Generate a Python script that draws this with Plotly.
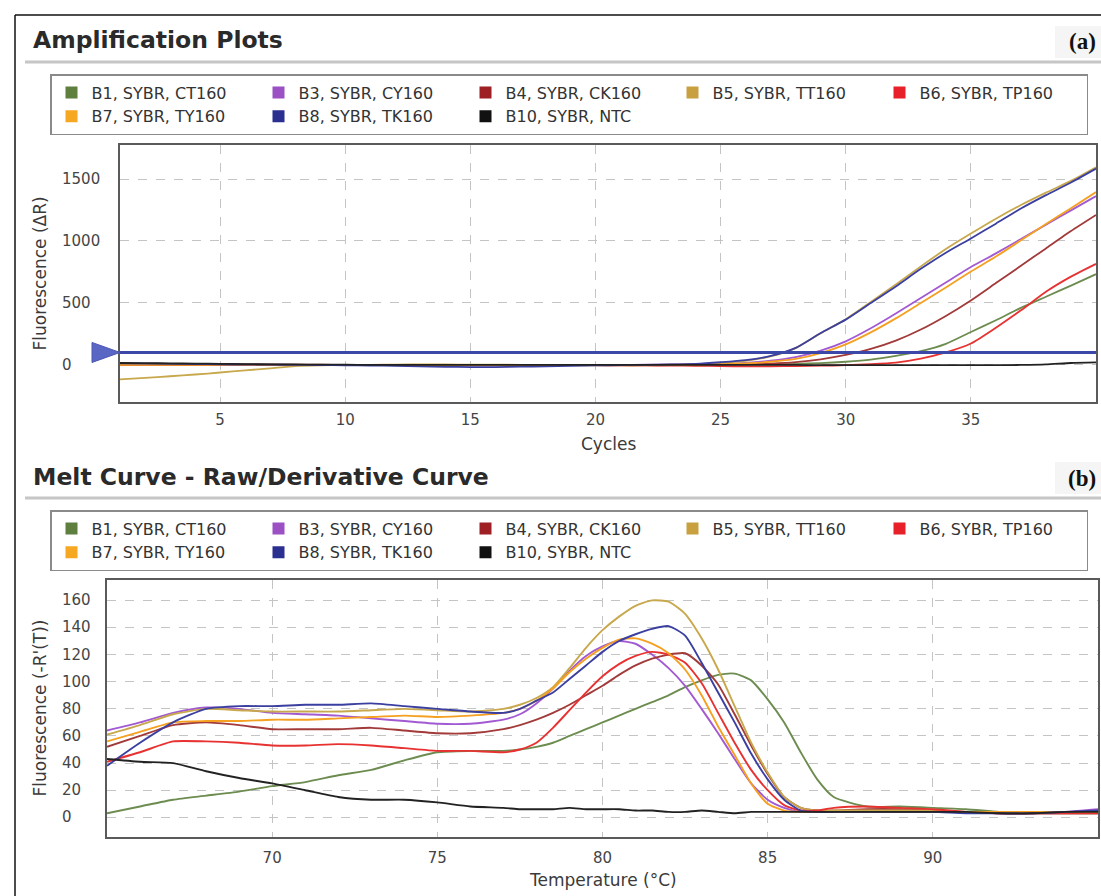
import plotly.graph_objects as go

W, H = 1101, 896

# ---------------- data ----------------
series_names = ["B1, SYBR, CT160", "B3, SYBR, CY160", "B4, SYBR, CK160", "B5, SYBR, TT160",
                "B6, SYBR, TP160", "B7, SYBR, TY160", "B8, SYBR, TK160", "B10, SYBR, NTC"]
series_colors = ["#5f7f3f", "#9b50c4", "#9e1f24", "#c9a040", "#e8202a", "#f7a823", "#2b2f8f", "#111111"]
line_colors = ["#6d8c50", "#a25ad2", "#a33a3a", "#c8a84c", "#e83232", "#f5a020", "#3a3fa0", "#222222"]

cycles = list(range(1, 41))
amp_B1 = [-3, -3, -2, -2, -2, -1, -1, -1, 0, 0, 0, 0, -1, -1, -2, -2, -2, -1, -1, 0, 0, 0, 0, 1,
          2, 3, 4, 8, 14, 25, 42, 72, 110, 170, 265, 360, 460, 550, 640, 732]
amp_B3 = [2, 2, 1, 1, 1, 0, 0, 0, 0, -1, -1, -2, -3, -4, -5, -5, -4, -3, -2, -1, 0, 1, 2, 4,
          8, 16, 33, 62, 115, 190, 295, 415, 540, 665, 790, 900, 1016, 1131, 1247, 1362]
amp_B4 = [8, 8, 7, 6, 5, 4, 3, 2, 1, 0, 0, -1, -1, -2, -2, -2, -1, -1, 0, 0, 0, 0, 1, 1,
          2, 4, 10, 22, 45, 80, 128, 195, 285, 395, 520, 660, 800, 940, 1080, 1210]
amp_B5 = [-118, -105, -92, -78, -62, -45, -28, -10, -4, -2, 0, 2, 3, 3, 2, 1, 0, -2, -3, -4, -5, -5, -3, 0,
          15, 32, 68, 135, 255, 368, 508, 648, 795, 935, 1060, 1180, 1290, 1390, 1485, 1595]
amp_B6 = [0, 0, 0, -1, -1, -1, -2, -2, -2, -2, -2, -3, -3, -3, -3, -3, -3, -3, -3, -3, -4, -5, -6, -8,
          -10, -13, -12, -10, -7, -3, 5, 18, 50, 100, 172, 300, 440, 590, 712, 815]
amp_B7 = [0, 0, 0, 0, -1, -1, -1, -1, -1, -1, -2, -2, -2, -3, -3, -3, -3, -3, -3, -2, -2, -1, 0, 2,
          5, 12, 25, 48, 95, 165, 262, 375, 500, 625, 753, 874, 1005, 1137, 1265, 1395]
amp_B8 = [12, 10, 8, 6, 4, 2, 1, 0, -2, -4, -6, -8, -12, -16, -18, -18, -15, -12, -8, -5, -2, 0, 3, 8,
          21, 38, 72, 137, 257, 365, 499, 633, 775, 905, 1020, 1140, 1262, 1370, 1472, 1584]
amp_B10 = [15, 14, 12, 10, 8, 6, 4, 3, 2, 1, 0, 0, 0, -1, -1, -1, -1, 0, 0, 0, 0, 0, 0, 0,
           0, -1, -1, -1, -2, -2, -2, -2, -2, -2, -2, -2, -1, 3, 15, 20]
threshold = 100
amp_yticks = [0, 500, 1000, 1500]
amp_xticks = [5, 10, 15, 20, 25, 30, 35]

temps = [65, 66, 67, 68, 69, 70, 71, 72, 73, 74, 75, 76, 77, 77.5, 78, 78.5, 79, 79.5, 80, 80.5,
         81, 81.5, 82, 82.5, 83, 83.5, 84, 84.5, 85, 85.5, 86, 86.5, 87, 88, 89, 90, 91, 92, 93, 94, 95]
melt_B1 = [3, 8, 13, 16, 19, 23, 26, 31, 35, 42, 48, 49, 49, 50, 52, 55, 60, 65, 70, 75,
           80, 85, 90, 96, 101, 105, 106, 101, 87, 70, 48, 28, 15, 8, 8, 7, 6, 4, 3, 3, 3]
melt_B3 = [64, 70, 77, 81, 80, 77, 76, 75, 73, 71, 69, 69, 72, 76, 84, 95, 108, 119, 126, 130,
           128, 120, 110, 97, 80, 62, 43, 25, 13, 7, 4, 4, 4, 4, 4, 4, 4, 3, 3, 4, 6]
melt_B4 = [52, 60, 68, 70, 68, 65, 65, 65, 66, 64, 62, 62, 65, 68, 72, 77, 83, 90, 97, 105,
           112, 117, 120, 121, 112, 98, 76, 53, 32, 15, 7, 5, 5, 6, 6, 5, 4, 3, 3, 3, 3]
melt_B5 = [61, 68, 76, 80, 79, 78, 78, 78, 79, 80, 79, 78, 80, 83, 88, 96, 110, 125, 138, 148,
           156, 160, 159, 150, 132, 109, 82, 55, 33, 15, 7, 5, 5, 5, 5, 5, 4, 4, 4, 4, 4]
melt_B6 = [41, 48, 56, 56, 55, 53, 53, 54, 53, 51, 49, 49, 48, 50, 55, 66, 79, 92, 104, 113,
           119, 122, 120, 114, 99, 77, 55, 35, 20, 9, 5, 5, 7, 8, 7, 6, 4, 3, 3, 3, 3]
melt_B7 = [56, 63, 70, 71, 71, 72, 72, 73, 74, 75, 74, 75, 77, 80, 86, 95, 107, 117, 125, 131,
           132, 128, 121, 109, 90, 67, 46, 25, 10, 5, 4, 4, 4, 4, 4, 4, 4, 4, 4, 4, 4]
melt_B8 = [38, 55, 70, 80, 82, 82, 83, 83, 84, 82, 80, 78, 77, 80, 86, 92, 102, 112, 122, 130,
           135, 139, 141, 134, 114, 92, 70, 47, 28, 13, 5, 4, 4, 4, 4, 4, 3, 3, 3, 4, 5]
melt_B10 = [43, 41, 40, 34, 29, 25, 20, 15, 13, 13, 11, 8, 7, 6, 6, 6, 7, 6, 6, 6,
            5, 5, 4, 4, 5, 4, 3, 4, 4, 4, 4, 4, 4, 4, 4, 4, 4, 3, 3, 4, 4]
melt_yticks = [0, 20, 40, 60, 80, 100, 120, 140, 160]
melt_xticks = [70, 75, 80, 85, 90]

amp_series = [amp_B1, amp_B3, amp_B4, amp_B5, amp_B6, amp_B7, amp_B8, amp_B10]
melt_series = [melt_B1, melt_B3, melt_B4, melt_B5, melt_B6, melt_B7, melt_B8, melt_B10]

# ---------------- layout helpers (pixels -> paper) ----------------
def px(x):
    return x / W

def py(y):
    return 1 - y / H

TOP = dict(l=120, r=1096, t=145, b=402)
BOT = dict(l=107, r=1098, t=580, b=837)

FONT = "DejaVu Sans"
TICK_COLOR = "#454545"

fig = go.Figure()

# --- amplification traces ---
for name, col, vals in zip(series_names, line_colors, amp_series):
    fig.add_trace(go.Scatter(x=cycles, y=vals, mode="lines", name=name,
                             line=dict(color=col, width=1.8, shape="spline", smoothing=0.6),
                             xaxis="x", yaxis="y", showlegend=False, hoverinfo="skip"))
fig.add_trace(go.Scatter(x=[cycles[0], cycles[-1]], y=[threshold, threshold], mode="lines",
                         line=dict(color="#3c48a8", width=3), xaxis="x", yaxis="y",
                         showlegend=False, hoverinfo="skip"))
# --- melt traces ---
for name, col, vals in zip(series_names, line_colors, melt_series):
    fig.add_trace(go.Scatter(x=temps, y=vals, mode="lines", name=name,
                             line=dict(color=col, width=1.9, shape="spline", smoothing=0.6),
                             xaxis="x2", yaxis="y2", showlegend=False, hoverinfo="skip"))

# --- legend entries ---
for lg, xa, ya in (("legend", "x", "y"), ("legend2", "x2", "y2")):
    for name, col in zip(series_names, series_colors):
        fig.add_trace(go.Scatter(x=[None], y=[None], mode="markers", name=name,
                                 marker=dict(symbol="square", size=12, color=col),
                                 legend=lg, xaxis=xa, yaxis=ya, showlegend=True))

axis_common = dict(showline=True, mirror=True, linecolor="#5a5a5a", linewidth=1.5,
                   showgrid=True, gridcolor="#c4c4c4", griddash="dash", gridwidth=1,
                   zeroline=False, ticks="", fixedrange=True)

legend_common = dict(orientation="h", xanchor="left", yanchor="top",
                     bgcolor="white", bordercolor="#8a8a8a", borderwidth=1.5,
                     font=dict(family=FONT, size=16, color="#333333"),
                     entrywidth=162, entrywidthmode="pixels", itemwidth=30,
                     tracegroupgap=0)

fig.update_layout(
    width=W, height=H, margin=dict(l=0, r=0, t=0, b=0),
    paper_bgcolor="white", plot_bgcolor="white",
    xaxis=dict(domain=[px(TOP["l"]), px(TOP["r"])], range=[1, 40], anchor="y",
               tickvals=amp_xticks, ticklabelstandoff=3,
               tickfont=dict(family=FONT, size=15, color=TICK_COLOR), **axis_common),
    yaxis=dict(domain=[py(TOP["b"]), py(TOP["t"])], range=[-300, 1775], anchor="x",
               tickvals=amp_yticks, showticklabels=False, **axis_common),
    xaxis2=dict(domain=[px(BOT["l"]), px(BOT["r"])], range=[65, 95], anchor="y2",
                tickvals=melt_xticks, ticklabelstandoff=6,
                tickfont=dict(family=FONT, size=15, color=TICK_COLOR), **axis_common),
    yaxis2=dict(domain=[py(BOT["b"]), py(BOT["t"])], range=[-14.5, 175], anchor="x2",
                tickvals=melt_yticks, showticklabels=False, **axis_common),
    legend=dict(x=px(50), y=py(74), **legend_common),
    legend2=dict(x=px(50), y=py(510), **legend_common),
    showlegend=True,
)

annotations = []
# left-aligned y tick labels
for v in amp_yticks:
    annotations.append(dict(x=px(60), xref="paper", y=v, yref="y", text=str(v), showarrow=False,
                            xanchor="left", yanchor="middle",
                            font=dict(family=FONT, size=15, color=TICK_COLOR)))
for v in melt_yticks:
    annotations.append(dict(x=px(60), xref="paper", y=v, yref="y2", text=str(v), showarrow=False,
                            xanchor="left", yanchor="middle",
                            font=dict(family=FONT, size=15, color=TICK_COLOR)))
# axis titles
annotations += [
    dict(x=px((TOP["l"] + TOP["r"]) / 2), y=py(444), xref="paper", yref="paper", text="Cycles",
         showarrow=False, xanchor="center", yanchor="middle",
         font=dict(family=FONT, size=17, color="#3a3a3a")),
    dict(x=px((BOT["l"] + BOT["r"]) / 2), y=py(880), xref="paper", yref="paper",
         text="Temperature (°C)", showarrow=False, xanchor="center", yanchor="middle",
         font=dict(family=FONT, size=17, color="#3a3a3a")),
    dict(x=px(39), y=py((TOP["t"] + TOP["b"]) / 2), xref="paper", yref="paper",
         text="Fluorescence (ΔR)", textangle=-90, showarrow=False, xanchor="center", yanchor="middle",
         font=dict(family=FONT, size=17, color="#3a3a3a")),
    dict(x=px(39), y=py((BOT["t"] + BOT["b"]) / 2), xref="paper", yref="paper",
         text="Fluorescence (-R'(T))", textangle=-90, showarrow=False, xanchor="center", yanchor="middle",
         font=dict(family=FONT, size=17, color="#3a3a3a")),
    # section titles
    dict(x=px(31), y=py(40), xref="paper", yref="paper", text="<b>Amplification Plots</b>",
         showarrow=False, xanchor="left", yanchor="middle",
         font=dict(family=FONT, size=23.5, color="#2a2a2a")),
    dict(x=px(31), y=py(477), xref="paper", yref="paper", text="<b>Melt Curve - Raw/Derivative Curve</b>",
         showarrow=False, xanchor="left", yanchor="middle",
         font=dict(family=FONT, size=23.5, color="#2a2a2a")),
    dict(x=px(1098), y=py(41), xref="paper", yref="paper", text="<b>(a)</b>",
         showarrow=False, xanchor="right", yanchor="middle",
         font=dict(family="Liberation Serif", size=23, color="#111111")),
    dict(x=px(1098), y=py(478), xref="paper", yref="paper", text="<b>(b)</b>",
         showarrow=False, xanchor="right", yanchor="middle",
         font=dict(family="Liberation Serif", size=23, color="#111111")),
]
fig.update_layout(annotations=annotations)

shapes = [
    # outer border (left and top)
    dict(type="line", xref="paper", yref="paper", x0=px(15), x1=px(15), y0=0, y1=py(15),
         line=dict(color="#111111", width=1.5)),
    dict(type="line", xref="paper", yref="paper", x0=px(15), x1=1, y0=py(15), y1=py(15),
         line=dict(color="#111111", width=1.5)),
    # faint panels behind (a) / (b)
    dict(type="rect", xref="paper", yref="paper", x0=px(1055), x1=1, y0=py(58), y1=py(26),
         fillcolor="#f5f5f5", line=dict(width=0), layer="below"),
    dict(type="rect", xref="paper", yref="paper", x0=px(1055), x1=1, y0=py(494), y1=py(462),
         fillcolor="#f5f5f5", line=dict(width=0), layer="below"),
    # section dividers
    dict(type="line", xref="paper", yref="paper", x0=px(25), x1=1, y0=py(62), y1=py(62),
         line=dict(color="#c6c6c6", width=3)),
    dict(type="line", xref="paper", yref="paper", x0=px(25), x1=1, y0=py(498), y1=py(498),
         line=dict(color="#c6c6c6", width=3)),
    # threshold marker triangle
    dict(type="path", xref="paper", yref="y", xsizemode="pixel", ysizemode="pixel",
         xanchor=px(TOP["l"]), yanchor=threshold, path="M -28 -10 L 0 0 L -28 10 Z",
         fillcolor="#5a66c4", line=dict(color="#4a56b4", width=1)),
]
fig.update_layout(shapes=shapes)

fig.write_html("out.html")
